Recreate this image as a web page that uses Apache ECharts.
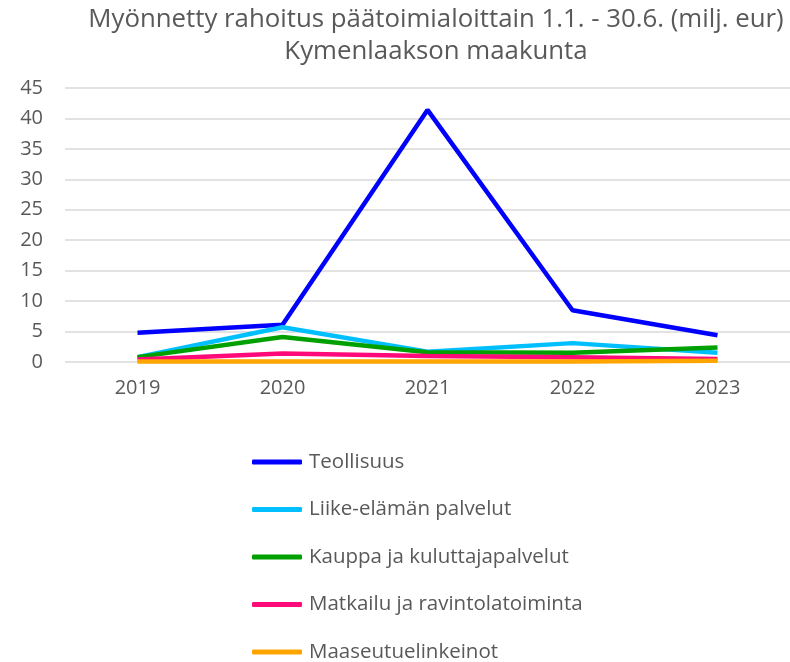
<!DOCTYPE html>
<html>
<head>
<meta charset="utf-8">
<script src="https://cdn.jsdelivr.net/npm/echarts@6/dist/echarts.min.js"></script>
<style>
  html, body { margin: 0; padding: 0; background: #fff; }
  #chart { width: 790px; height: 662px; }
</style>
</head>
<body>
<div id="chart"></div>
<script>
// vuodet ja toimialat
var years = ['2019', '2020', '2021', '2022', '2023'];
var teollisuus = [4.8, 6.1, 41.4, 8.5, 4.4];
var liikeElama = [0.8, 5.7, 1.7, 3.1, 1.5];
var kauppa = [0.8, 4.1, 1.6, 1.5, 2.4];
var matkailu = [0.4, 1.4, 1.0, 0.8, 0.5];
var maaseutu = [0.1, 0.1, 0.1, 0.1, 0.2];

var chart = echarts.init(document.getElementById('chart'));

function serie(name, data, color) {
    return {
        name: name,
        type: 'line',
        data: data,
        symbol: 'none',
        color: color,
        lineStyle: { width: 4.5, color: color },
        emphasis: { disabled: true }
    };
}

var option = {
    animation: false,
    textStyle: { fontFamily: 'Open Sans' },
    title: {
        text: 'Myönnetty rahoitus päätoimialoittain 1.1. - 30.6. (milj. eur)\nKymenlaakson maakunta',
        left: 431,
        textAlign: 'center',
        top: -1,
        textStyle: { fontSize: 25.8, fontWeight: 'normal', color: '#595959', lineHeight: 32 }
    },
    legend: {
        orient: 'vertical',
        left: 247,
        top: 443,
        height: 260,
        itemGap: 19.5,
        itemWidth: 50,
        itemHeight: 5,
        icon: 'roundRect',
        textStyle: { fontSize: 20.5, color: '#595959', lineHeight: 28, padding: [0, 0, 0, 2] },
        data: ['Teollisuus', 'Liike-elämän palvelut', 'Kauppa ja kuluttajapalvelut',
               'Matkailu ja ravintolatoiminta', 'Maaseutuelinkeinot']
    },
    grid: { left: 65, right: 0, top: 88, bottom: 300, containLabel: false },
    xAxis: {
        type: 'category',
        data: years,
        boundaryGap: true,
        axisLine: { show: false },
        axisTick: { show: false },
        axisLabel: { fontSize: 20, color: '#595959', margin: 16 }
    },
    yAxis: {
        type: 'value',
        min: 0,
        max: 45,
        interval: 5,
        axisLabel: { fontSize: 20, color: '#595959', margin: 22 },
        splitLine: { lineStyle: { color: '#d9d9d9', width: 1.5 } }
    },
    series: [
        serie('Teollisuus', teollisuus, '#0000ff'),
        serie('Liike-elämän palvelut', liikeElama, '#00bfff'),
        serie('Kauppa ja kuluttajapalvelut', kauppa, '#00a000'),
        serie('Matkailu ja ravintolatoiminta', matkailu, '#ff0a78'),
        serie('Maaseutuelinkeinot', maaseutu, '#ffa500')
    ]
};

chart.setOption(option);
</script>
</body>
</html>
